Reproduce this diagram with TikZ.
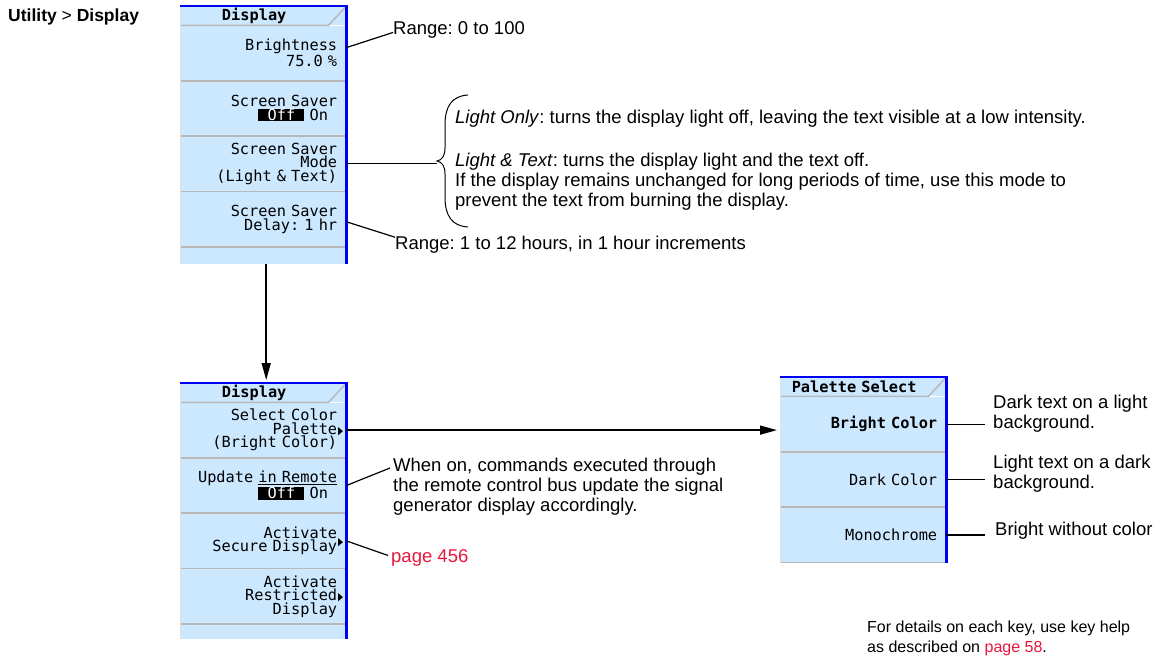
\documentclass[tikz,border=0pt]{standalone}
\usepackage{fontspec}
\usepackage{graphicx}
\setmainfont{Liberation Sans}
\newfontfamily\keyfont{DejaVu Sans Mono}
\newfontfamily\trifont{DejaVu Sans}
\definecolor{keyblue}{HTML}{CCE8FF}
\definecolor{rimblue}{HTML}{0000F0}
\definecolor{pagered}{HTML}{E8173C}
\usetikzlibrary{arrows.meta, calc, positioning}

\newcommand{\offsel}[1]{{\setlength{\fboxsep}{0pt}\colorbox{black}{\rule[-1pt]{0pt}{12pt}\hspace{.6em}\textcolor{white}{#1}\hspace{.6em}}}}
\newcommand{\submenu}{{\trifont\fontsize{11}{11}\selectfont\scalebox{.6}[1]{▶}}}
\frenchspacing

\begin{document}
\begin{tikzpicture}[x=1pt, y=-1pt,
	softkey/.style={fill=keyblue, minimum width=166pt, minimum height=55pt, text width=148pt, inner xsep=9pt, inner ysep=0pt, align=right, anchor=north west, font=\keyfont\fontsize{15.3}{13.5}\selectfont},
	keytitle/.style={fill=keyblue, minimum height=19pt, text width=148pt, inner xsep=0pt, inner ysep=0pt, align=center, anchor=north west, font=\keyfont\bfseries\fontsize{15.3}{13.5}\selectfont},
	keystub/.style={fill=keyblue, minimum width=166pt, inner sep=0pt, anchor=north west},
	keysep/.style={draw=black!28, line width=1.5pt},
	keyedge/.style={draw=black!12, line width=1pt},
	panelrim/.style={draw=rimblue, line width=2.5pt},
	note/.style={font=\fontsize{18.5}{20}\selectfont, inner sep=0pt, align=left},
	callout/.style={line width=1.2pt},
	flow/.style={line width=1.5pt, -{Triangle[length=17pt,width=9pt]}, shorten >=3pt}]
	\useasboundingbox (0,0) rectangle (1158,660);
	
	\node[note, anchor=base west, font=\bfseries\fontsize{17.5}{20}\selectfont] (menupath) at (8,22) {Utility \textmd{>} Display};
	
	% first menu
	\begin{scope}
		\node[keytitle] (title1) at (180,6) {Display};
		\node[softkey] (bright) at (title1.south west) {Brightness\\75.0 \%};
		\node[softkey] (saver) at (bright.south west) {Screen Saver\\\offsel{Off}\ On\phantom{0}};
		\node[softkey] (mode) at (saver.south west) {Screen Saver\\Mode\\(Light \& Text)};
		\node[softkey] (delay) at (mode.south west) {Screen Saver\\Delay: 1 hr};
		\node[keystub, minimum height=17pt] (stub1) at (delay.south west) {};
		
		\fill[keyblue] (title1.north east) rectangle (bright.north east);
		\draw[keysep] (title1.south west) -- (title1.south east) -- (title1.north east -| bright.east);
		\foreach \k in {bright,saver,mode,delay}
			\draw[keysep] (\k.south west) -- (\k.south east);
		\draw[keyedge] (title1.north west) -- (stub1.south west);
		\draw[panelrim] (title1.north west) -- (title1.north west -| bright.east) -- (stub1.south east);
	\end{scope}
	
	% second menu
	\begin{scope}
		\node[keytitle] (title2) at (180,383) {Display};
		\node[softkey] (palette) at (title2.south west) {Select Color\\Palette\rlap{\hspace{1pt}\raisebox{0pt}{\submenu}}\\(Bright Color)};
		\node[softkey] (remote) at (palette.south west) {Update \underline{in Remote}\\\offsel{Off}\ On\phantom{0}};
		\node[softkey] (secure) at (remote.south west) {Activate\\Secure Display\rlap{\hspace{1pt}\raisebox{6pt}{\submenu}}};
		\node[softkey] (restrict) at (secure.south west) {Activate\\Restricted\rlap{\hspace{1pt}\raisebox{0pt}{\submenu}}\\Display};
		\node[keystub, minimum height=15pt] (stub2) at (restrict.south west) {};
		
		\fill[keyblue] (title2.north east) rectangle (palette.north east);
		\draw[keysep] (title2.south west) -- (title2.south east) -- (title2.north east -| palette.east);
		\foreach \k in {palette,remote,secure,restrict}
			\draw[keysep] (\k.south west) -- (\k.south east);
		\draw[keyedge] (title2.north west) -- (stub2.south west);
		\draw[panelrim] (title2.north west) -- (title2.north west -| palette.east) -- (stub2.south east);
	\end{scope}
	
	% palette menu
	\begin{scope}
		\node[keytitle] (title3) at (780,377) {Palette Select};
		\node[softkey, font=\keyfont\bfseries\fontsize{15.3}{13.5}\selectfont] (brightc) at (title3.south west) {Bright Color};
		\node[softkey] (darkc) at (brightc.south west) {Dark Color};
		\node[softkey] (mono) at (darkc.south west) {Monochrome};
		
		\fill[keyblue] (title3.north east) rectangle (brightc.north east);
		\draw[keysep] (title3.south west) -- (title3.south east) -- (title3.north east -| brightc.east);
		\foreach \k in {brightc,darkc,mono}
			\draw[keysep] (\k.south west) -- (\k.south east);
		\draw[keyedge] (title3.north west) -- (mono.south west);
		\draw[panelrim] (title3.north west) -- (title3.north west -| brightc.east) -- (mono.south east);
	\end{scope}
	
	% notes
	\node[note, anchor=base west] (rng1) at (393,35) {Range: 0 to 100};
	\node[note, anchor=north west] (modenote) at (455,110) {\textit{Light Only}: turns the display light off, leaving the text visible at a low intensity.\\[23pt]
		\textit{Light \& Text}: turns the display light and the text off.\\
		If the display remains unchanged for long periods of time, use this mode to\\
		prevent the text from burning the display.};
	\node[note, anchor=base west] (rng2) at (395,249) {Range: 1 to 12 hours, in 1 hour increments};
	\node[note, anchor=north west] (remnote) at (393,458) {When on, commands executed through\\the remote control bus update the signal\\generator display accordingly.};
	\node[note, anchor=base west, text=pagered] (pg) at (391,562) {page 456};
	\node[note, anchor=north west] (brightnote) at (993,395) {Dark text on a light\\background.};
	\node[note, anchor=north west] (darknote) at (993,455) {Light text on a dark\\background.};
	\node[note, anchor=base west] (mononote) at (995,535) {Bright without color};
	\node[note, anchor=north west, font=\fontsize{16}{19.5}\selectfont] (helpnote) at (867,621) {For details on each key, use key help\\as described on \textcolor{pagered}{page 58}.};
	
	% brace
	\coordinate (brtop) at (468,95);
	\coordinate (brtip) at (437,161);
	\coordinate (brbot) at (468,227);
	\draw[line width=1pt] (brtop) .. controls (452,96) and (445,106) .. (445,125) -- (445,148)
		.. controls (445,156) and (442,160) .. (brtip)
		.. controls (442,162) and (445,166) .. (445,174) -- (445,197)
		.. controls (445,216) and (452,226) .. (brbot);
	
	% connectors
	\draw[callout] ([yshift=5.5pt]bright.east) -- ([yshift=-2pt]rng1.west);
	\draw[callout] (mode.east) -- (mode.east -| brtip);
	\draw[callout] ([yshift=-2.5pt]delay.east) -- ([yshift=7pt]rng2.west);
	\draw[callout] (remote.east) -- ([xshift=-3pt,yshift=-10pt]remnote.north west);
	\draw[callout] (secure.east) -- ([xshift=-3pt,yshift=2pt]pg.west);
	\draw[callout] (brightc.east) -- ([xshift=-8pt]brightc.east -| brightnote.west);
	\draw[callout] (darkc.east) -- ([xshift=-8pt]darkc.east -| darknote.west);
	\draw[callout] (mono.east) -- ([xshift=-10pt]mono.east -| mononote.west);
	
	\draw[flow] ([xshift=3pt]stub1.south) -- ([xshift=3pt]stub1.south |- title2.north);
	\draw[flow] (palette.east) -- (palette.east -| brightc.west);
\end{tikzpicture}
\end{document}
